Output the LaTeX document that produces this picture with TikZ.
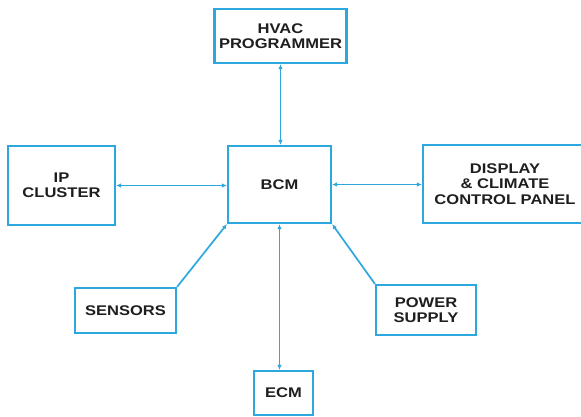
\documentclass[tikz,border=0pt]{standalone}
\usepackage{fontspec}
\setmainfont{Liberation Sans}
\newfontfamily\labfont[FakeStretch=1.18]{Liberation Sans}
\usetikzlibrary{arrows.meta}
\definecolor{diagblue}{RGB}{45,168,222}
\definecolor{inkgray}{RGB}{30,30,30}
\tikzset{
  blk/.style={draw=diagblue, line width=2.2pt, rectangle, inner sep=0pt,
    align=center, text=inkgray,
    font=\labfont\bfseries\fontsize{14}{15.5}\selectfont},
  link/.style={draw=diagblue, line width=1.7pt},
  tip/.tip={Latex[length=5pt,width=4.5pt]}
}
\begin{document}
\begin{tikzpicture}[x=1pt,y=-1pt]
\useasboundingbox (0,0) rectangle (581,417);
\fill[white] (0,0) rectangle (581,417);
\node[blk, minimum width=132pt, minimum height=54pt] (hvac) at (280.5,36) {HVAC\\PROGRAMMER};
\node[blk, minimum width=103pt, minimum height=77pt] (bcm) at (279.5,184.5) {BCM};
\node[blk, minimum width=107pt, minimum height=79pt] (ip) at (61.5,185.5) {IP\\CLUSTER};
\node[blk, minimum width=164pt, minimum height=78pt] (disp) at (505,184) {DISPLAY\\\&\ CLIMATE\\CONTROL PANEL};
\node[blk, minimum width=101pt, minimum height=45pt] (sens) at (125.5,310.5) {SENSORS};
\node[blk, minimum width=100pt, minimum height=50pt] (pow) at (426,310) {POWER\\SUPPLY};
\node[blk, minimum width=59pt, minimum height=44pt] (ecm) at (283.5,393) {ECM};
\draw[link, {tip}-{tip}] (hvac.south) -- (hvac.south |- bcm.north);
\draw[link, {tip}-{tip}] (ip.east) -- (ip.east -| bcm.west);
\draw[link, {tip}-{tip}] (bcm.east) -- (bcm.east -| disp.west);
\draw[link, {tip}-{tip}] (bcm.south) -- (bcm.south |- ecm.north);
\draw[link, -{tip}] (sens.north east) -- (bcm.south west);
\draw[link, -{tip}] (pow.north west) -- (bcm.south east);
\end{tikzpicture}
\end{document}
